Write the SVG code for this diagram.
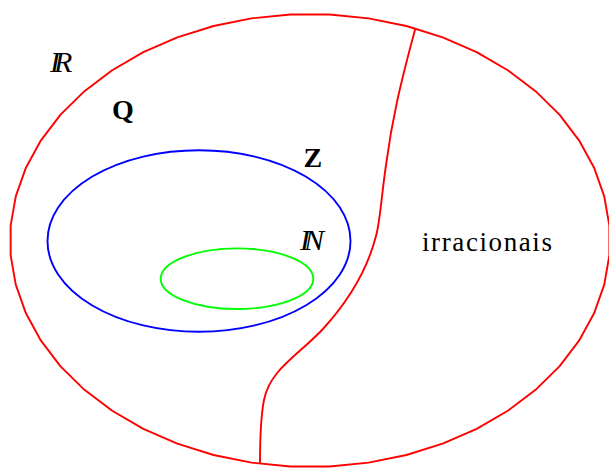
<svg xmlns="http://www.w3.org/2000/svg" width="609" height="468" viewBox="0 0 609 468">
<style>
.red{fill:none;stroke:#ff0000;stroke-width:1.9;stroke-linejoin:round}
.blue{fill:none;stroke:#0000ff;stroke-width:1.9}
.green{fill:none;stroke:#00ff00;stroke-width:1.9}
text{font-family:"Liberation Serif","DejaVu Serif",serif;fill:#000}
.it{font-style:italic;font-size:30px;letter-spacing:-6px}
.bd{font-weight:bold;font-size:28px}
.rm{font-size:27px}
</style>
<rect width="609" height="468" fill="#fff"/>
<g id="R">
<polygon class="red" points="609.36,225.69 604.24,196.31 594.08,167.69 579.06,140.32 559.44,114.66 535.55,91.16 507.81,70.21 476.67,52.17 442.69,37.36 406.43,26.02 368.53,18.35 329.62,14.48 290.38,14.48 251.47,18.35 213.57,26.02 177.31,37.36 143.33,52.17 112.19,70.21 84.45,91.16 60.56,114.66 40.94,140.32 25.92,167.69 15.76,196.31 10.64,225.69 10.64,255.31 15.76,284.69 25.92,313.31 40.94,340.68 60.56,366.34 84.45,389.84 112.19,410.79 143.33,428.83 177.31,443.64 213.57,454.98 251.47,462.65 290.38,466.52 329.62,466.52 368.53,462.65 406.43,454.98 442.69,443.64 476.67,428.83 507.81,410.79 535.55,389.84 559.44,366.34 579.06,340.68 594.08,313.31 604.24,284.69 609.36,255.31"/>
<text class="it" x="50" y="71.5">IR</text>
</g>
<g id="Q">
<text class="bd" x="112" y="119">Q</text>
</g>
<g id="Z">
<ellipse class="blue" cx="199" cy="241" rx="151.5" ry="90.8"/>
<text class="bd" x="303.5" y="166.5">Z</text>
</g>
<g id="N">
<ellipse class="green" cx="237" cy="278.7" rx="76.3" ry="30.3"/>
<text class="it" x="300" y="250">IN</text>
</g>
<g id="irracionais">
<text class="rm" x="422" y="251" textLength="130" lengthAdjust="spacing">irracionais</text>
</g>
<g id="connectors">
<path class="red" d="M415.5,28 C400,85 392,120 386,165 C381,200 380,222 376,236 C366,275 345,305 322,330 C296,357 270,370 264,400 C260,420 260,445 260,464"/>
</g>
</svg>
